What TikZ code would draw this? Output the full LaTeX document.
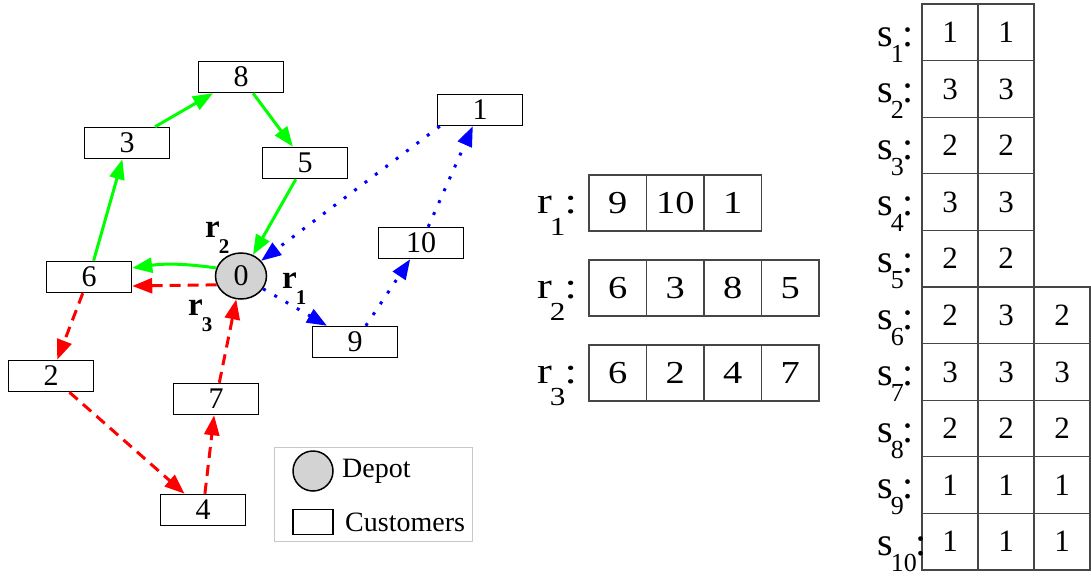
\documentclass[tikz,border=0pt]{standalone}
\usepackage{fontspec}
\setmainfont{Liberation Serif}
\newfontfamily\wideserif[FakeStretch=1.2]{Liberation Serif}
\usepackage{tikz}
\usetikzlibrary{arrows.meta,shapes.geometric}
\definecolor{depotGray}{RGB}{211,211,211}
\definecolor{cellLine}{RGB}{70,70,70}
\definecolor{legendLine}{RGB}{200,200,200}
\tikzset{myCustomer/.style={draw, line width=1.5pt, minimum width=85pt, minimum height=31pt, inner sep=0pt, font=\fontsize{30}{30}\selectfont}}
\tikzset{myDepot/.style={ellipse, draw, fill=depotGray, line width=1.5pt, minimum width=51pt, minimum height=46pt, inner sep=0pt, font=\fontsize{30}{30}\selectfont}}
\tikzset{myTip/.style={-{Triangle[length=20pt,width=15pt]}}}
\tikzset{routeOne/.style={myTip, blue, line width=3pt, dash pattern=on 3pt off 10pt}}
\tikzset{routeTwo/.style={myTip, green, line width=3pt}}
\tikzset{routeThree/.style={myTip, red, line width=3pt, dash pattern=on 11pt off 7pt}}
\tikzset{rCell/.style={draw=cellLine, line width=1.2pt, minimum width=57.5pt, minimum height=56pt, inner sep=0pt, font=\fontsize{32}{32}\wideserif}}
\tikzset{sCell/.style={draw=cellLine, line width=1.2pt, minimum width=56pt, minimum height=56.6pt, inner sep=0pt, font=\fontsize{31}{31}\selectfont}}
\tikzset{rLab/.style={inner sep=0pt, anchor=base west, font=\fontsize{37}{37}\wideserif}}
\tikzset{sLab/.style={inner sep=0pt, anchor=base west, font=\fontsize{40}{40}\selectfont}}
\tikzset{routeLab/.style={inner sep=0pt, anchor=base west, font=\fontsize{33}{33}\selectfont\bfseries}}
\newcommand{\tabLab}[3]{#1\kern-2pt\raisebox{-#3pt}{\fontsize{26}{26}\selectfont #2}\kern-1pt:}
\newcommand{\routeName}[2]{#1\kern-1pt\raisebox{-16pt}{\fontsize{21}{21}\selectfont #2}}

\begin{document}
\begin{tikzpicture}[x=1pt,y=-1pt]
	\useasboundingbox (0,0) rectangle (1091,575);
	% customers and depot
	\node[myDepot] (dep) at (241,276) {0};
	\node[myCustomer] (c1) at (480,110) {1};
	\node[myCustomer] (c2) at (51,376) {2};
	\node[myCustomer] (c3) at (127,143) {3};
	\node[myCustomer] (c4) at (203,510) {4};
	\node[myCustomer] (c5) at (305,163) {5};
	\node[myCustomer] (c6) at (89,277) {6};
	\node[myCustomer] (c7) at (216,399) {7};
	\node[myCustomer] (c8) at (241,77) {8};
	\node[myCustomer] (c9) at (355,342) {9};
	\node[myCustomer] (c10) at (421,243) {10};

	% route r1
	\draw[routeOne] (dep) -- (c9);
	\draw[routeOne] (c9) -- (c10);
	\draw[routeOne] (c10) -- (c1);
	\draw[routeOne] ([xshift=3pt]c1.south west) -- (dep);
	% route r2
	\draw[routeTwo] (dep.162) to[bend right=8] ([yshift=9pt]c6.east);
	\draw[routeTwo] (c6) -- (c3);
	\draw[routeTwo] (c3) -- (c8);
	\draw[routeTwo] (c8) -- (c5);
	\draw[routeTwo] (c5) -- (dep);
	% route r3
	\draw[routeThree] (dep.200) -- ([yshift=-9pt]c6.east);
	\draw[routeThree] (c6) -- (c2);
	\draw[routeThree] (c2) -- (c4);
	\draw[routeThree] (c4) -- (c7);
	\draw[routeThree] (c7) -- (dep);

	\node[routeLab] (labR2) at (205,237) {\routeName{r}{2}};
	\node[routeLab] (labR1) at (282,288) {\routeName{r}{1}};
	\node[routeLab] (labR3) at (188,315) {\routeName{r}{3}};

	% legend
	\node[draw=legendLine, line width=0.8pt, minimum width=198pt, minimum height=94pt] (legend) at (373,494) {};
	\node[circle, draw, fill=depotGray, line width=1.5pt, minimum size=40pt, inner sep=0pt] (legDep) at (313,471) {};
	\node[anchor=west, inner sep=0pt, font=\fontsize{28}{28}\selectfont] (legDepTxt) at (342,471) {Depot};
	\node[draw, line width=1.5pt, minimum width=40pt, minimum height=25pt, inner sep=0pt] (legCus) at (313,522) {};
	\node[anchor=west, inner sep=0pt, font=\fontsize{28}{28}\selectfont] (legCusTxt) at (345,522) {Customers};

	% route tables
	\foreach \v [count=\k] in {9,10,1}
		\node[rCell] (r1-\k) at (589+57.5*\k-28.75,203) {\v};
	\foreach \v [count=\k] in {6,3,8,5}
		\node[rCell] (r2-\k) at (589+57.5*\k-28.75,288) {\v};
	\foreach \v [count=\k] in {6,2,4,7}
		\node[rCell] (r3-\k) at (589+57.5*\k-28.75,373) {\v};
	\node[rLab] (labT1) at (537,213) {\tabLab{r}{1}{22}};
	\node[rLab] (labT2) at (537,298) {\tabLab{r}{2}{22}};
	\node[rLab] (labT3) at (537,383) {\tabLab{r}{3}{22}};

	% s table
	\foreach \a/\b [count=\i] in {1/1,3/3,2/2,3/3,2/2}{
		\node[sCell] (s\i-1) at (950,4+56.6*\i-28.3) {\a};
		\node[sCell] (s\i-2) at (1006,4+56.6*\i-28.3) {\b};
		\node[sLab] (labS\i) at (877,4+56.6*\i-14.5) {\tabLab{s}{\i}{16}};
	}
	\foreach \a/\b/\c [count=\j from 6] in {2/3/2,3/3/3,2/2/2,1/1/1,1/1/1}{
		\node[sCell] (s\j-1) at (950,4+56.6*\j-28.3) {\a};
		\node[sCell] (s\j-2) at (1006,4+56.6*\j-28.3) {\b};
		\node[sCell] (s\j-3) at (1062,4+56.6*\j-28.3) {\c};
		\node[sLab] (labS\j) at (877,4+56.6*\j-14.5) {\tabLab{s}{\j}{16}};
	}
\end{tikzpicture}
\end{document}
